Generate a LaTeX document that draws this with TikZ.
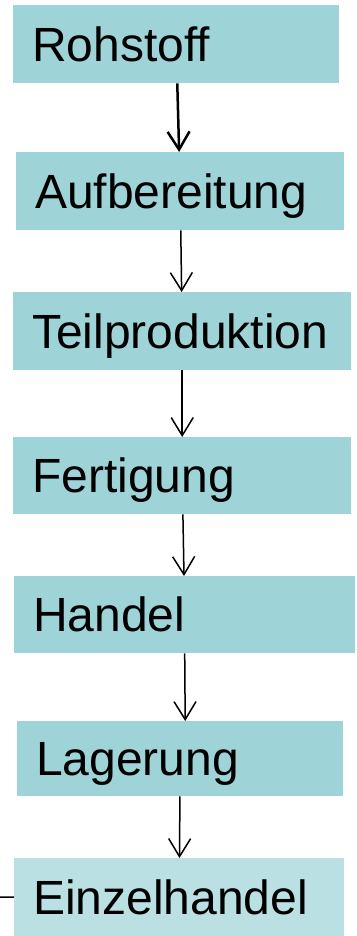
\documentclass[tikz,border=0pt]{standalone}
\usepackage{fontspec}
\setmainfont{Liberation Sans}
\usetikzlibrary{arrows.meta}
\definecolor{StageTeal}{RGB}{158, 211, 215}
\definecolor{StageLight}{RGB}{187, 224, 227}
\tikzstyle{stage} = [rectangle, anchor=north west, fill=StageTeal, inner xsep=19pt, inner ysep=0pt, minimum height=78pt, text height=38pt, text depth=4pt, align=left, font=\fontsize{48}{52}\selectfont]
\tikzstyle{arrow} = [line width=1.5pt, -{Straight Barb[length=18pt, width=22pt]}]

\begin{document}
\begin{tikzpicture}[x=1pt, y=-1pt]
\useasboundingbox (0,0) rectangle (356,936);

% Stufen
\node (rohstoff) [stage, text width=288pt] at (13,5) {Rohstoff};
\node (aufbereitung) [stage, text width=290pt] at (16,152) {Aufbereitung};
\node (teilproduktion) [stage, text width=300pt] at (13,292) {Teilproduktion};
\node (fertigung) [stage, text width=300pt, minimum height=77pt] at (13,437) {Fertigung};
\node (handel) [stage, text width=303pt, minimum height=77pt] at (14,576) {Handel};
\node (lagerung) [stage, text width=288pt, minimum height=75pt] at (17,721) {Lagerung};
\node (einzelhandel) [stage, fill=StageLight, text width=292pt] at (14,858) {Einzelhandel};
\coordinate (links) at (0,897);

% Pfeile
\draw [arrow, line width=2.5pt] (rohstoff) -- (aufbereitung);
\draw [arrow] (aufbereitung) -- (teilproduktion);
\draw [arrow] (teilproduktion) -- (fertigung);
\draw [arrow] (fertigung) -- (handel);
\draw [arrow] (handel.south) -- ([xshift=5pt]lagerung.north);
\draw [arrow] (lagerung) -- (einzelhandel);
\draw [line width=1.5pt] (links) -- (einzelhandel.west);

\end{tikzpicture}
\end{document}
